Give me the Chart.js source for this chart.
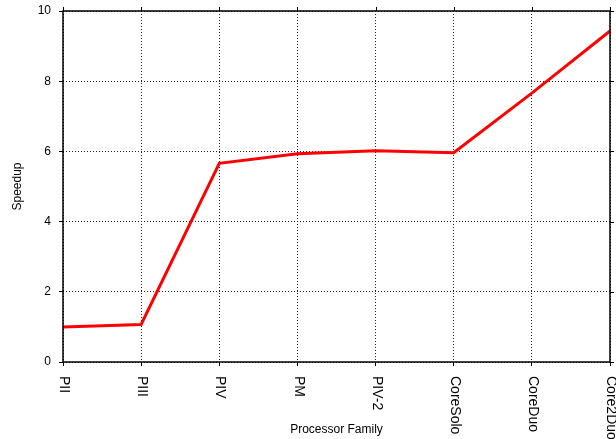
<!DOCTYPE html>
<html>
<head>
<meta charset="utf-8">
<script src="https://cdn.jsdelivr.net/npm/chart.js@4.4.1/dist/chart.umd.min.js"></script>
<style>
	html, body { margin: 0; padding: 0; background: #fff; }
	#wrap { width: 616px; height: 439px; }
</style>
</head>
<body>
<div id="wrap"><canvas id="speedupChart" width="616" height="439"></canvas></div>
<script>
var families = ['PII', 'PIII', 'PIV', 'PM', 'PIV-2', 'CoreSolo', 'CoreDuo', 'Core2Duo'];
var speedup = [1.0, 1.07, 5.66, 5.93, 6.02, 5.96, 7.66, 9.43];
var yTicks = [0, 2, 4, 6, 8, 10];

var FONT = '"Liberation Sans", Arial, Helvetica, sans-serif';

// frame, mirror ticks and the rotated category labels (top-to-bottom reading)
var framePlugin = {
	id: 'frame',
	afterDraw: function(chart) {
		var ctx = chart.ctx;
		var a = chart.chartArea;
		var xs = chart.scales.x;
		var ys = chart.scales.y;
		ctx.save();
		ctx.strokeStyle = '#000';
		ctx.lineWidth = 1.5;
		ctx.setLineDash([]);
		ctx.strokeRect(a.left, a.top, a.right - a.left, a.bottom - a.top);

		ctx.lineWidth = 1;
		ctx.beginPath();
		for (var i = 0; i < families.length; i++) {
			var px = Math.round(xs.getPixelForTick(i)) + 0.5;
			ctx.moveTo(px, a.top);
			ctx.lineTo(px, a.top - 4);
		}
		for (var j = 0; j < yTicks.length; j++) {
			var py = Math.round(ys.getPixelForValue(yTicks[j])) + 0.5;
			ctx.moveTo(a.right, py);
			ctx.lineTo(a.right + 4, py);
		}
		ctx.stroke();

		ctx.fillStyle = '#000';
		ctx.font = '14px ' + FONT;
		ctx.textAlign = 'left';
		ctx.textBaseline = 'middle';
		for (var k = 0; k < families.length; k++) {
			var x = xs.getPixelForTick(k);
			ctx.save();
			ctx.translate(x + 1, a.bottom + 14);
			ctx.rotate(Math.PI / 2);
			ctx.fillText(families[k], 0, 0);
			ctx.restore();
		}
		ctx.restore();
	}
};

var ctxObj = document.getElementById('speedupChart').getContext('2d');
var chart = new Chart(ctxObj, {
	type: 'line',
	data: {
		labels: families,
		datasets: [{
			label: 'Speedup',
			data: speedup,
			borderColor: '#ff0000',
			borderWidth: 3,
			pointRadius: 0,
			tension: 0,
			fill: false
		}]
	},
	options: {
		responsive: false,
		animation: false,
		layout: { padding: { top: 11, right: 6, left: 0, bottom: 0 } },
		plugins: {
			legend: { display: false },
			tooltip: { enabled: false }
		},
		scales: {
			x: {
				type: 'category',
				offset: false,
				afterFit: function(scale) {
					scale.height = 77;
					scale.paddingLeft = 0;
					scale.paddingRight = 0;
				},
				ticks: { display: false },
				grid: {
					color: '#222',
					lineWidth: 1,
					drawTicks: true,
					tickLength: 4,
					tickColor: '#000',
					tickBorderDash: []
				},
				border: { display: false, dash: [1, 2] },
				title: {
					display: true,
					text: 'Processor Family',
					color: '#000',
					font: { family: FONT, size: 12 },
					padding: { top: 0, bottom: 2 }
				}
			},
			y: {
				min: 0,
				max: 10,
				afterFit: function(scale) {
					scale.width = 63;
					scale.paddingTop = 0;
					scale.paddingBottom = 0;
				},
				afterBuildTicks: function(scale) {
					scale.ticks = yTicks.map(function(v) { return { value: v }; });
				},
				ticks: {
					color: '#000',
					padding: 8,
					font: { family: FONT, size: 12 }
				},
				grid: {
					color: '#222',
					lineWidth: 1,
					drawTicks: true,
					tickLength: 4,
					tickColor: '#000',
					tickBorderDash: []
				},
				border: { display: false, dash: [1, 2] },
				title: {
					display: true,
					text: 'Speedup',
					color: '#000',
					font: { family: FONT, size: 12 },
					padding: { top: 10, bottom: 0 }
				}
			}
		}
	},
	plugins: [framePlugin]
});
</script>
</body>
</html>
